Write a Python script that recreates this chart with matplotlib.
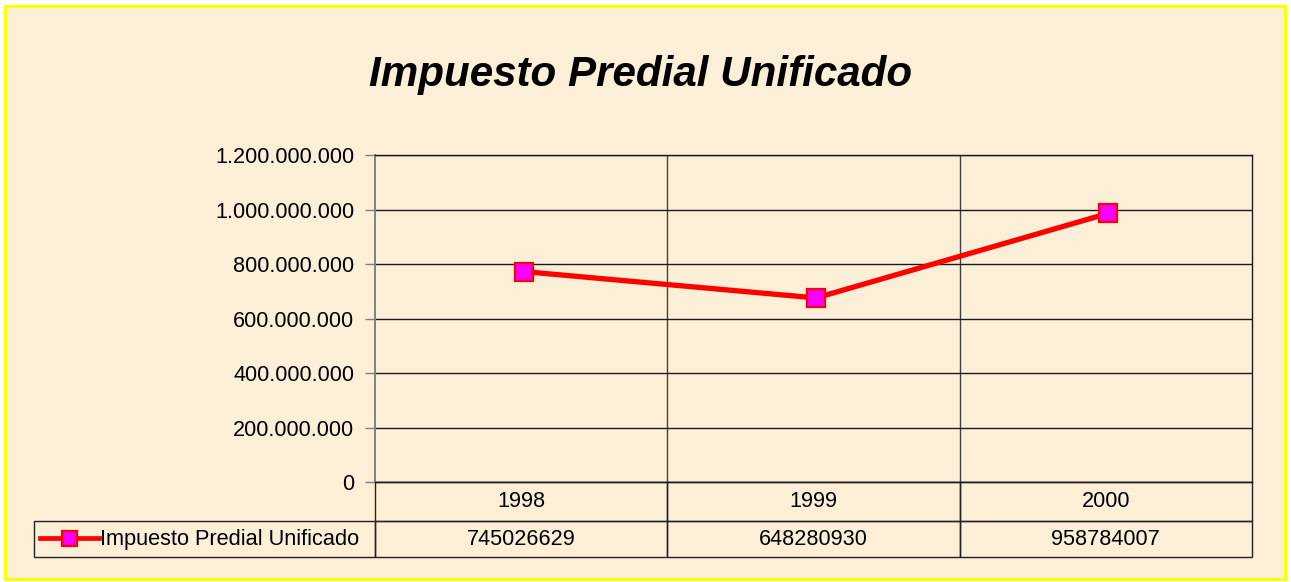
import matplotlib
matplotlib.use("Agg")
import matplotlib.pyplot as plt
import matplotlib.transforms as mtransforms
from matplotlib.patches import Rectangle
from matplotlib.table import Table
from matplotlib.ticker import FuncFormatter, MultipleLocator

# ---- data ----
title = "Impuesto Predial Unificado"
series_name = "Impuesto Predial Unificado"
years = ["1998", "1999", "2000"]
values = [745026629, 648280930, 958784007]
y_max = 1200000000
y_step = 200000000

plt.rcParams['font.family'] = ['Liberation Sans', 'DejaVu Sans']

W, H = 1291, 582
fig = plt.figure(figsize=(W / 100, H / 100), dpi=100)
fig.patch.set_facecolor('white')

# parchment background with yellow border
bg = Rectangle((5 / W, (H - 579) / H), 1280 / W, 573 / H, transform=fig.transFigure,
               facecolor='#FCEFD7', edgecolor='#FFFF00', linewidth=2.2, zorder=-10)
fig.patches.append(bg)

# plot area
L, R, T, B = 375, 1252, 155.3, 482.3
ax = fig.add_axes([L / W, (H - B) / H, (R - L) / W, (B - T) / H])
ax.set_facecolor('none')
ax.set_zorder(1)

n = len(years)
xs = [i + 0.5 for i in range(n)]
ax.set_xlim(0, n)
ax.set_ylim(0, y_max)

ax.yaxis.set_major_locator(MultipleLocator(y_step))
ax.yaxis.set_major_formatter(FuncFormatter(lambda v, p: f"{v:,.0f}".replace(",", ".")))
ax.tick_params(axis='y', length=7, width=1, color='#808080', pad=8, labelsize=15.6, labelcolor='black')
ax.set_xticks(xs)
ax.set_xticklabels([])
ax.tick_params(axis='x', length=0)
ax.set_xticks(range(1, n), minor=True)
ax.tick_params(axis='x', which='minor', length=0)
ax.grid(True, axis='y', which='major', color='#1a1a1a', linewidth=1.0)
ax.grid(True, axis='x', which='minor', color='#404040', linewidth=1.0)
ax.set_axisbelow(True)
for s in ['top', 'right', 'bottom']:
    ax.spines[s].set_color('#1a1a1a')
    ax.spines[s].set_linewidth(1.0)
ax.spines['left'].set_color('#808080')
ax.spines['left'].set_linewidth(1.4)

# series (rendered slightly offset as in the original picture)
shifted = mtransforms.offset_copy(ax.transData, fig=fig, x=2.5, y=7.7, units='dots')
line, = ax.plot(xs, values, color='#FF0000', linewidth=3.8, marker='s', markersize=13.5,
                markerfacecolor='#FF00FF', markeredgecolor='#FF0000', markeredgewidth=1.6,
                transform=shifted, clip_on=False, zorder=5, label=series_name)

# data table below the plot
tl = 34
tb = 557.3
tab = Table(ax, bbox=[(tl - L) / (R - L), -(tb - B) / (B - T), (R - tl) / (R - L), (tb - B) / (B - T)])
lab_w = L - tl
col_w = (R - L) / n
for r, (row_text, rh) in enumerate([(years, 38.4), ([str(v) for v in values], 36.3)]):
    c0 = tab.add_cell(r, 0, width=lab_w, height=rh, text='', facecolor='none', edgecolor='#222222')
    c0.set_linewidth(1.0)
    if r == 0:
        c0.visible_edges = ''
    for j, t in enumerate(row_text):
        c = tab.add_cell(r, j + 1, width=col_w, height=rh, text=t, loc='center',
                         facecolor='none', edgecolor='#222222')
        c.set_linewidth(1.0)
tab.auto_set_font_size(False)
tab.set_fontsize(15.6)
for cell in tab.get_celld().values():
    cell.get_text().set_color('black')
ax.add_table(tab)

# legend key inside the row label cell
leg = ax.legend(handles=[line], loc='center left',
                bbox_to_anchor=((40 - L) / (R - L), -(540 - B) / (B - T)),
                frameon=False, fontsize=15.7, handlelength=2.7, handletextpad=0.05,
                borderpad=0, borderaxespad=0, markerscale=0.8)
for h in leg.legend_handles:
    h.set_linewidth(3.4)

# title
fig.text(641 / W, 1 - 86 / H, title, ha='center', va='baseline', fontsize=30.3,
         fontweight='bold', fontstyle='italic')

fig.savefig('out.png', dpi=100, facecolor=fig.get_facecolor())
